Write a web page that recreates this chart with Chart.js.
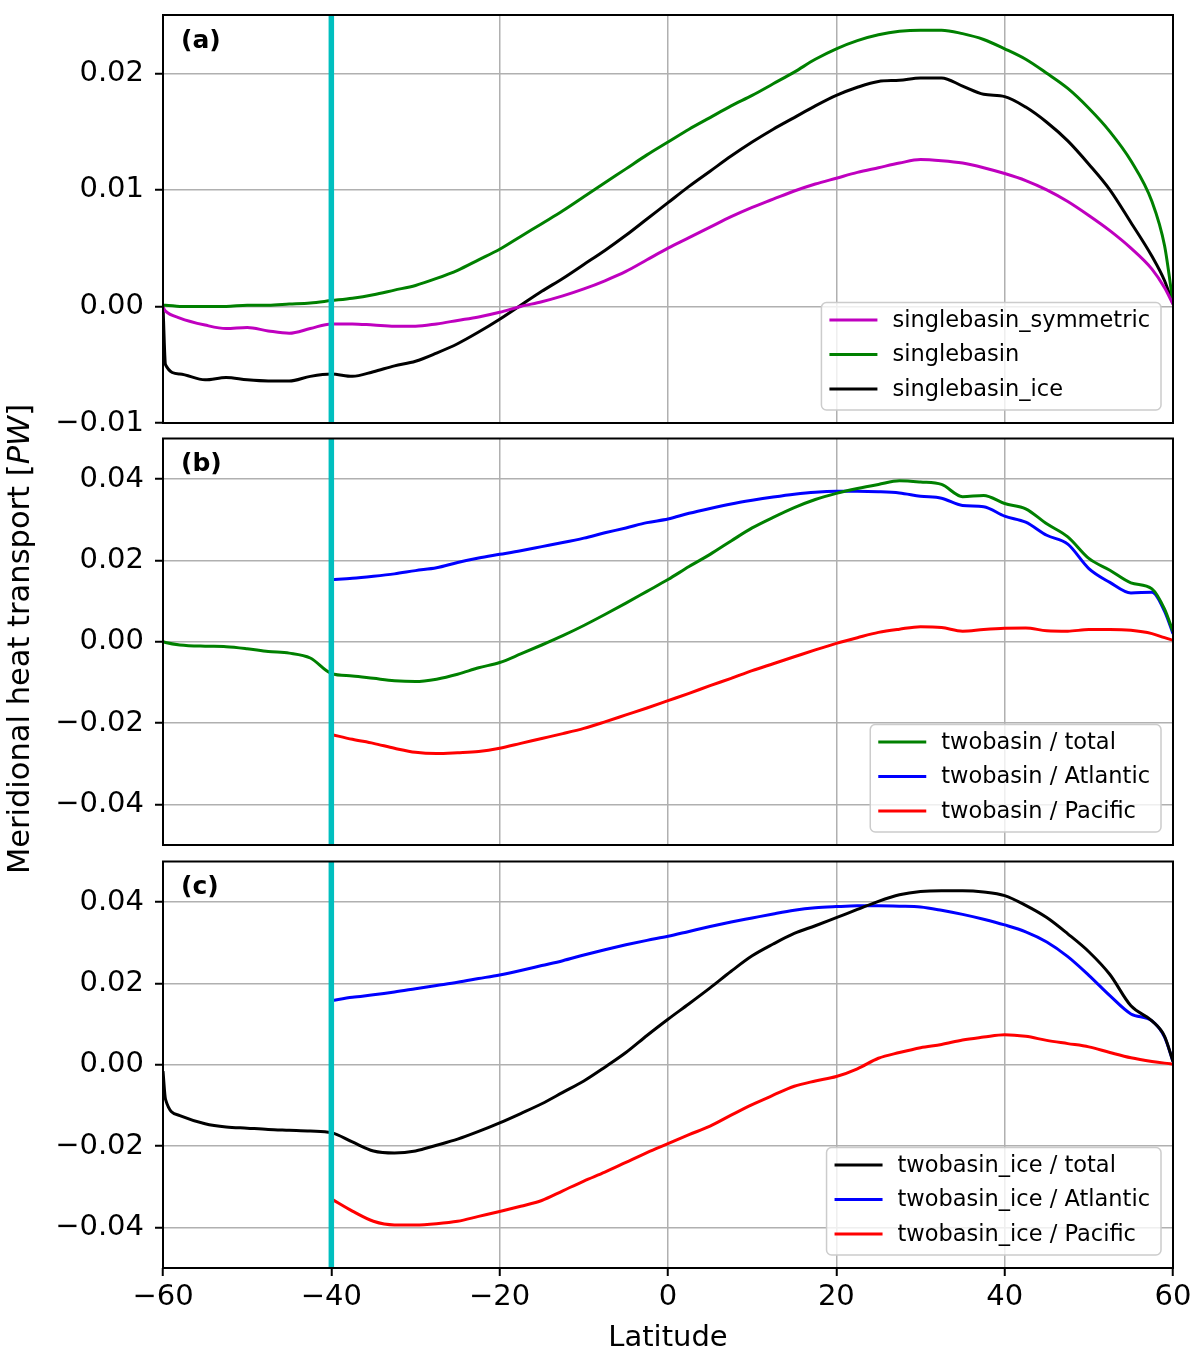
<!DOCTYPE html>
<html>
<head>
<meta charset="utf-8">
<script src="https://cdn.jsdelivr.net/npm/chart.js@4.4.0/dist/chart.umd.min.js"></script>
<style>
  html, body { margin: 0; padding: 0; background: #fff; }
  #wrap { position: relative; width: 1200px; height: 1364px; overflow: hidden; }
  canvas { position: absolute; left: 0; }
  #ylabel {
    position: absolute; left: -281px; top: 621px; width: 600px; height: 36px;
    line-height: 36px; text-align: center; transform: rotate(-90deg);
    font-family: 'DejaVu Sans'; font-size: 30.5px; color: #000; white-space: nowrap;
  }
</style>
</head>
<body>
<div id="wrap">
  <canvas id="panel-a" width="1200" height="450" style="top:0px"></canvas>
  <canvas id="panel-b" width="1200" height="450" style="top:420px"></canvas>
  <canvas id="panel-c" width="1200" height="519" style="top:845px"></canvas>
  <div id="ylabel">Meridional heat transport [<i>PW</i>]</div>
</div>
<script>
// latitude grid (deg) shared by the full-width curves
const lat = [-60, -59.7, -58, -55, -52.5, -50, -47.5, -45, -42.5, -40,
  -37.5, -35, -32.5, -30, -27.5, -25, -22.5, -20, -17.5, -15, -12.5, -10, -7.5, -5, -2.5, 0,
  2.5, 5, 7.5, 10, 12.5, 15, 17.5, 20, 22.5, 25, 27.5, 30, 32.5, 35, 37.5, 40,
  42.5, 45, 47.5, 50, 52.5, 55, 57.5, 59, 60];
// basin curves only exist north of 40S
const latBasin = [-40, -37.5, -35, -32.5, -30, -27.5, -25, -22.5, -20, -17.5, -15, -12.5, -10, -7.5, -5, -2.5, 0,
  2.5, 5, 7.5, 10, 12.5, 15, 17.5, 20, 22.5, 25, 27.5, 30, 32.5, 35, 37.5, 40,
  42.5, 45, 47.5, 50, 52.5, 55, 57.5, 59, 60];

// (a) single basin runs, PW
const symmetricA = [-0.0001, -0.0004, -0.0010, -0.0016, -0.0019, -0.0018, -0.0021, -0.0023, -0.0019, -0.0015,
  -0.0015, -0.0016, -0.0017, -0.0017, -0.0015, -0.0012, -0.0009, -0.0005, 0.0000, 0.0004, 0.0009, 0.0015, 0.0022, 0.0030, 0.0040, 0.0050,
  0.0059, 0.0068, 0.0077, 0.0085, 0.0092, 0.0099, 0.0105, 0.0110, 0.0115, 0.0119, 0.0123, 0.0126, 0.0125, 0.0123, 0.0119, 0.0114,
  0.0108, 0.0100, 0.0090, 0.0078, 0.0065, 0.0050, 0.0032, 0.0016, 0.0002];
const singleA = [0.0001, 0.0001, 0.0000, 0.0000, 0.0000, 0.0001, 0.0001, 0.0002, 0.0003, 0.0005,
  0.0007, 0.0010, 0.0014, 0.0018, 0.0024, 0.0031, 0.0040, 0.0049, 0.0060, 0.0071, 0.0082, 0.0094, 0.0106, 0.0118, 0.0130, 0.0141,
  0.0152, 0.0162, 0.0172, 0.0181, 0.0191, 0.0201, 0.0212, 0.0221, 0.0228, 0.0233, 0.0236, 0.0237, 0.0237, 0.0234, 0.0229, 0.0221,
  0.0212, 0.0200, 0.0187, 0.0170, 0.0150, 0.0125, 0.0090, 0.0052, 0.0003];
const iceA = [0.0000, -0.0050, -0.0058, -0.0063, -0.0061, -0.0063, -0.0064, -0.0064, -0.0060, -0.0058,
  -0.0060, -0.0056, -0.0051, -0.0047, -0.0040, -0.0032, -0.0022, -0.0011, 0.0001, 0.0013, 0.0024, 0.0036, 0.0048, 0.0061, 0.0075, 0.0089,
  0.0103, 0.0116, 0.0129, 0.0141, 0.0152, 0.0162, 0.0172, 0.0181, 0.0188, 0.0193, 0.0194, 0.0196, 0.0196, 0.0189, 0.0182, 0.0180,
  0.0171, 0.0158, 0.0142, 0.0122, 0.0100, 0.0072, 0.0043, 0.0022, 0.0002];

// (b) two basin run
const totalB = [0.0000, -0.0002, -0.0008, -0.0011, -0.0012, -0.0017, -0.0024, -0.0028, -0.0040, -0.0078,
  -0.0084, -0.0090, -0.0096, -0.0098, -0.0092, -0.0080, -0.0064, -0.0051, -0.0030, -0.0008, 0.0015, 0.0040, 0.0067, 0.0095, 0.0124, 0.0153,
  0.0185, 0.0215, 0.0248, 0.0280, 0.0306, 0.0330, 0.0350, 0.0365, 0.0377, 0.0387, 0.0396, 0.0393, 0.0387, 0.0357, 0.0360, 0.0340,
  0.0327, 0.0290, 0.0258, 0.0205, 0.0176, 0.0145, 0.0130, 0.0080, 0.0025];
const atlB = [0.0153, 0.0156, 0.0161, 0.0167, 0.0175, 0.0182, 0.0195, 0.0206, 0.0215,
  0.0224, 0.0234, 0.0244, 0.0255, 0.0268, 0.0280, 0.0293, 0.0302,
  0.0316, 0.0328, 0.0339, 0.0348, 0.0356, 0.0363, 0.0368, 0.0370,
  0.0370, 0.0369, 0.0366, 0.0358, 0.0353, 0.0335, 0.0332, 0.0309,
  0.0294, 0.0262, 0.0240, 0.0180, 0.0146, 0.0120, 0.0122, 0.0075, 0.0020];
const pacB = [-0.0228, -0.0240, -0.0250, -0.0262, -0.0272, -0.0275, -0.0273, -0.0270, -0.0262,
  -0.0250, -0.0238, -0.0226, -0.0213, -0.0197, -0.0180, -0.0163, -0.0145,
  -0.0127, -0.0108, -0.0090, -0.0071, -0.0054, -0.0037, -0.0020, -0.0004,
  0.0010, 0.0023, 0.0031, 0.0037, 0.0035, 0.0026, 0.0030, 0.0033,
  0.0034, 0.0027, 0.0026, 0.0030, 0.0030, 0.0028, 0.0020, 0.0010, 0.0004];

// (c) two basin run with sea ice
const totalC = [-0.0016, -0.0085, -0.0125, -0.0145, -0.0153, -0.0156, -0.0159, -0.0161, -0.0163, -0.0167,
  -0.0190, -0.0212, -0.0217, -0.0212, -0.0198, -0.0183, -0.0164, -0.0143, -0.0120, -0.0096, -0.0068, -0.0040, -0.0006, 0.0030, 0.0072, 0.0112,
  0.0150, 0.0189, 0.0230, 0.0268, 0.0297, 0.0323, 0.0342, 0.0362, 0.0382, 0.0402, 0.0418, 0.0426, 0.0428, 0.0428, 0.0425, 0.0416,
  0.0392, 0.0362, 0.0322, 0.0278, 0.0222, 0.0145, 0.0108, 0.0070, 0.0008];
const atlC = [0.0158, 0.0166, 0.0172, 0.0179, 0.0187, 0.0195, 0.0203, 0.0212, 0.0221,
  0.0232, 0.0244, 0.0256, 0.0270, 0.0283, 0.0295, 0.0306, 0.0316,
  0.0328, 0.0340, 0.0351, 0.0361, 0.0371, 0.0380, 0.0386, 0.0389,
  0.0391, 0.0391, 0.0390, 0.0388, 0.0380, 0.0370, 0.0358, 0.0344,
  0.0327, 0.0302, 0.0266, 0.0220, 0.0170, 0.0125, 0.0108, 0.0068, 0.0008];
const pacC = [-0.0330, -0.0360, -0.0385, -0.0394, -0.0394, -0.0391, -0.0385, -0.0373, -0.0361,
  -0.0348, -0.0334, -0.0310, -0.0286, -0.0264, -0.0240, -0.0216, -0.0194,
  -0.0172, -0.0151, -0.0124, -0.0098, -0.0075, -0.0053, -0.0040, -0.0029,
  -0.0010, 0.0016, 0.0030, 0.0042, 0.0050, 0.0061, 0.0068, 0.0074,
  0.0070, 0.0060, 0.0052, 0.0044, 0.0030, 0.0017, 0.0008, 0.0004, 0.0002];

const xTicks = [-60, -40, -20, 0, 20, 40, 60];
const yTicksA = [-0.01, 0.00, 0.01, 0.02];
const yTicksBC = [-0.04, -0.02, 0.00, 0.02, 0.04];
const shelfLat = -40;

const FONT = 'DejaVu Sans';
const COL = {
  magenta: '#bf00bf', green: '#008000', black: '#000000',
  blue: '#0000ff', red: '#ff0000', cyan: '#00bfbf', grid: '#b0b0b0'
};

function pts(xs, ys) {
  return xs.map((x, i) => ({ x: x, y: ys[i] }));
}

function series(label, xs, ys, color) {
  return {
    label: label,
    data: pts(xs, ys),
    borderColor: color,
    backgroundColor: color,
    borderWidth: 3,
    pointRadius: 0,
    fill: false,
    cubicInterpolationMode: 'monotone'
  };
}

function minus(v, digits) {
  const s = Math.abs(v).toFixed(digits);
  return v < 0 ? '\u2212' + s : s;
}

// the layout padding alone decides where the plot box sits
function noEdgePadding(s) {
  s.paddingTop = 0;
  s.paddingBottom = 0;
  s.paddingLeft = 0;
  s.paddingRight = 0;
}

// frame, -40 line, panel tag and a matplotlib-style legend box
const decorations = {
  id: 'decorations',
  afterDatasetsDraw(chart, args, opts) {
    const a = chart.chartArea;
    const ctx = chart.ctx;
    ctx.save();

    const xl = chart.scales.x.getPixelForValue(shelfLat);
    ctx.strokeStyle = COL.cyan;
    ctx.lineWidth = 5.5;
    ctx.beginPath();
    ctx.moveTo(xl, a.top);
    ctx.lineTo(xl, a.bottom);
    ctx.stroke();

    ctx.strokeStyle = '#000';
    ctx.lineWidth = 2;
    ctx.strokeRect(a.left, a.top, a.right - a.left, a.bottom - a.top);

    ctx.fillStyle = '#000';
    ctx.font = 'bold 25px ' + FONT;
    ctx.textBaseline = 'middle';
    ctx.textAlign = 'left';
    ctx.fillText(opts.tag, a.left + 18, a.top + 26);

    const items = chart.data.datasets;
    ctx.font = '22.5px ' + FONT;
    const textW = Math.max.apply(null, items.map(d => ctx.measureText(d.label).width));
    const rowH = 34.5;
    const w = 71 + textW + 11;
    const h = rowH * items.length + 4;
    const right = a.right - 12;
    const bottom = a.bottom - 13;
    const left = right - w;
    const top = bottom - h;
    ctx.beginPath();
    if (ctx.roundRect) ctx.roundRect(left, top, w, h, 5); else ctx.rect(left, top, w, h);
    ctx.fillStyle = 'rgba(255,255,255,0.8)';
    ctx.fill();
    ctx.strokeStyle = '#cccccc';
    ctx.lineWidth = 1.5;
    ctx.stroke();
    items.forEach((d, i) => {
      const cy = top + 17.5 + i * rowH;
      ctx.strokeStyle = d.borderColor;
      ctx.lineWidth = 3;
      ctx.beginPath();
      ctx.moveTo(left + 8, cy);
      ctx.lineTo(left + 56, cy);
      ctx.stroke();
      ctx.fillStyle = '#000';
      ctx.fillText(d.label, left + 71, cy + 1);
    });
    ctx.restore();
  }
};

function makePanel(id, tag, datasets, yMin, yMax, yTicks, showX, padding) {
  return new Chart(document.getElementById(id), {
    type: 'line',
    data: { datasets: datasets },
    options: {
      responsive: false,
      animation: false,
      layout: { padding: padding },
      plugins: {
        legend: { display: false },
        tooltip: { enabled: false },
        decorations: { tag: tag }
      },
      scales: {
        x: {
          type: 'linear',
          min: -60,
          max: 60,
          afterBuildTicks: s => { s.ticks = xTicks.map(v => ({ value: v })); },
          afterFit: s => { s.height = showX ? 96 : 0; noEdgePadding(s); },
          border: { display: false },
          grid: {
            color: COL.grid, lineWidth: 1.5,
            drawTicks: showX, tickLength: 8, tickColor: '#000', tickWidth: 2
          },
          ticks: {
            display: showX,
            color: '#000',
            font: { family: FONT, size: 29 },
            padding: 4,
            maxRotation: 0,
            callback: v => minus(v, 0)
          },
          title: {
            display: showX,
            text: 'Latitude',
            color: '#000',
            font: { family: FONT, size: 29 },
            padding: { top: 0, bottom: 8 }
          }
        },
        y: {
          type: 'linear',
          min: yMin,
          max: yMax,
          afterBuildTicks: s => { s.ticks = yTicks.map(v => ({ value: v })); },
          afterFit: s => { s.width = 163; noEdgePadding(s); },
          border: { display: false },
          grid: {
            color: COL.grid, lineWidth: 1.5,
            drawTicks: true, tickLength: 8, tickColor: '#000', tickWidth: 2
          },
          ticks: {
            color: '#000',
            font: { family: FONT, size: 29 },
            padding: 11,
            callback: v => minus(v, 2)
          }
        }
      }
    },
    plugins: [decorations]
  });
}

makePanel('panel-a', '(a)', [
  series('singlebasin_symmetric', lat, symmetricA, COL.magenta),
  series('singlebasin', lat, singleA, COL.green),
  series('singlebasin_ice', lat, iceA, COL.black)
], -0.01, 0.025, yTicksA, false, { top: 15, bottom: 27, left: 0, right: 27 });

makePanel('panel-b', '(b)', [
  series('twobasin / total', lat, totalB, COL.green),
  series('twobasin / Atlantic', latBasin, atlB, COL.blue),
  series('twobasin / Pacific', latBasin, pacB, COL.red)
], -0.05, 0.05, yTicksBC, false, { top: 18.5, bottom: 25, left: 0, right: 27 });

makePanel('panel-c', '(c)', [
  series('twobasin_ice / total', lat, totalC, COL.black),
  series('twobasin_ice / Atlantic', latBasin, atlC, COL.blue),
  series('twobasin_ice / Pacific', latBasin, pacC, COL.red)
], -0.05, 0.05, yTicksBC, true, { top: 16.5, bottom: 0, left: 0, right: 27 });
</script>
</body>
</html>
